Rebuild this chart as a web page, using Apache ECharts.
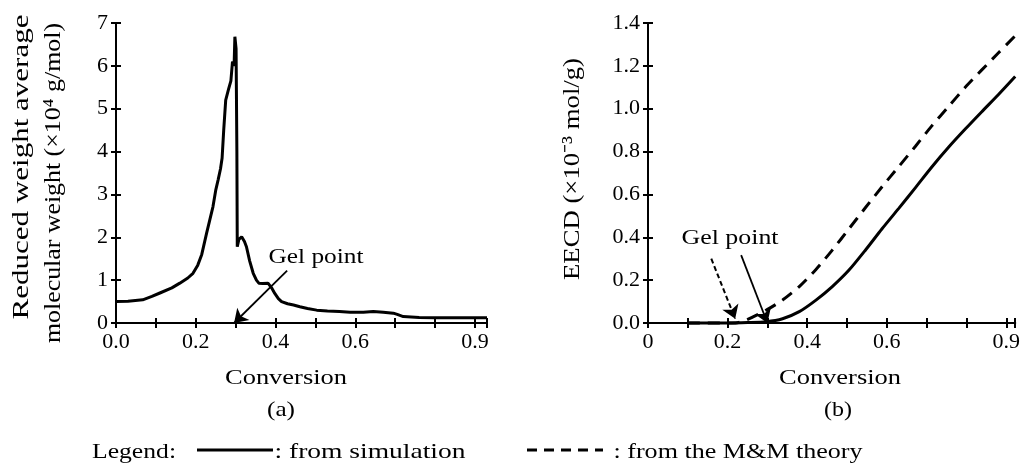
<!DOCTYPE html>
<html>
<head>
<meta charset="utf-8">
<script src="https://cdn.jsdelivr.net/npm/echarts@6/dist/echarts.min.js"></script>
<style>
html,body{margin:0;padding:0;background:#fff;}
#chart{width:1023px;height:468px;}
</style>
</head>
<body>
<div id="chart"></div>
<script>
// ---- Data (a): reduced weight average molecular weight vs conversion (simulation)
const convA = [0, 0.03, 0.067, 0.09, 0.11, 0.14, 0.16, 0.18, 0.193, 0.205, 0.215, 0.227, 0.235, 0.243, 0.25, 0.256, 0.262, 0.266, 0.27, 0.275, 0.282, 0.288, 0.292, 0.296, 0.298, 0.301, 0.303, 0.304, 0.308, 0.315, 0.322, 0.327, 0.335, 0.344, 0.352, 0.358, 0.368, 0.381, 0.39, 0.398, 0.407, 0.415, 0.43, 0.445, 0.461, 0.48, 0.503, 0.53, 0.56, 0.587, 0.62, 0.645, 0.67, 0.695, 0.705, 0.72, 0.76, 0.8, 0.85, 0.9, 0.93];
const mwA   = [0.50, 0.51, 0.54, 0.62, 0.70, 0.82, 0.93, 1.05, 1.16, 1.35, 1.6, 2.09, 2.4, 2.71, 3.1, 3.34, 3.6, 3.85, 4.5, 5.2, 5.45, 5.65, 6.1, 6.0, 6.68, 6.4, 4.0, 1.78, 1.95, 2.01, 1.9, 1.78, 1.45, 1.16, 1.0, 0.93, 0.92, 0.93, 0.82, 0.69, 0.57, 0.50, 0.45, 0.42, 0.38, 0.34, 0.30, 0.28, 0.27, 0.25, 0.25, 0.27, 0.25, 0.23, 0.2, 0.15, 0.13, 0.12, 0.12, 0.12, 0.12];

// ---- Data (b): EECD vs conversion
const convBSim = [0.1, 0.15, 0.2, 0.25, 0.297, 0.338, 0.38, 0.422, 0.463, 0.505, 0.547, 0.588, 0.63, 0.672, 0.713, 0.755, 0.797, 0.838, 0.88, 0.9225];
const eecdSim  = [0, 0, 0, 0.002, 0.006, 0.02, 0.053, 0.107, 0.17, 0.247, 0.342, 0.44, 0.535, 0.632, 0.728, 0.82, 0.905, 0.985, 1.065, 1.15];
const convBMM  = [0.1, 0.15, 0.2, 0.22, 0.247, 0.297, 0.338, 0.38, 0.422, 0.463, 0.505, 0.547, 0.588, 0.63, 0.672, 0.713, 0.755, 0.797, 0.838, 0.88, 0.9225];
const eecdMM   = [0, 0, 0, 0, 0.014, 0.06, 0.107, 0.17, 0.25, 0.34, 0.44, 0.54, 0.636, 0.73, 0.825, 0.92, 1.01, 1.1, 1.18, 1.26, 1.34];

// ---- Tick labels
const xTickValues = [0, 0.2, 0.4, 0.6, 0.9];
const xTickLabelsA = ['0.0', '0.2', '0.4', '0.6', '0.9'];
const xTickLabelsB = ['0', '0.2', '0.4', '0.6', '0.9'];
const yTickLabelsA = ['0', '1', '2', '3', '4', '5', '6', '7'];
const yTickLabelsB = ['0.0', '0.2', '0.4', '0.6', '0.8', '1.0', '1.2', '1.4'];

// ---- Annotation anchors (data coordinates)
const gelArrowA    = [[0.429, 1.22], [0.296, 0.0]];
const gelArrowBSim = [[0.234, 0.317], [0.300, 0.0]];
const gelArrowBMM  = [[0.159, 0.30], [0.219, 0.02]];

const FONT = 'Liberation Serif';
const pairs = (xs, ys) => xs.map((x, i) => [x, ys[i]]);

function xFmt(labels) {
  return function (v) {
    for (let i = 0; i < xTickValues.length; i++) {
      if (Math.abs(v - xTickValues[i]) < 1e-6) return labels[i];
    }
    return '';
  };
}
function yFmt(labels, step) {
  return function (v) {
    const r = Math.round(v / step);
    if (Math.abs(v / step - r) < 1e-6 && labels[r] !== undefined) return labels[r];
    return '';
  };
}

const measureCtx = document.createElement('canvas').getContext('2d');
function textW(text, size) {
  measureCtx.font = size + 'px ' + FONT;
  return measureCtx.measureText(text).width;
}
function fitText(text, size, cx, cy, target, rot) {
  const s = target / textW(text, size);
  return {
    type: 'text', x: cx, y: cy, rotation: rot || 0, scaleX: s, scaleY: 1,
    style: { text: text, fontSize: size, fontFamily: FONT, fill: '#000',
             textAlign: 'center', textVerticalAlign: 'middle' }
  };
}

const axisLine = { show: true, lineStyle: { color: '#000', width: 2 } };
const axisTick = { show: true, inside: true, length: 5, lineStyle: { color: '#000', width: 2 } };
const labelStyle = { color: '#000', fontFamily: FONT, fontSize: 22 };

function xAxes(grid, max, labels) {
  return [
    { type: 'value', gridIndex: grid, min: 0, max: max, interval: 0.1, position: 'bottom',
      axisLine, axisTick, splitLine: { show: false },
      axisLabel: Object.assign({ margin: 8, formatter: xFmt(labels), showMaxLabel: true }, labelStyle) },
    { type: 'value', gridIndex: grid, min: 0, max: max, interval: 0.1, position: 'top',
      axisLine, axisTick, splitLine: { show: false }, axisLabel: { show: false } }
  ];
}
function yAxes(grid, max, step, labels) {
  return [
    { type: 'value', gridIndex: grid, min: 0, max: max, interval: step, position: 'left',
      axisLine, axisTick, splitLine: { show: false },
      axisLabel: Object.assign({ margin: 8, formatter: yFmt(labels, step) }, labelStyle) },
    { type: 'value', gridIndex: grid, min: 0, max: max, interval: step, position: 'right',
      axisLine, axisTick, splitLine: { show: false }, axisLabel: { show: false } }
  ];
}

function arrowLine(pts, dashed) {
  return {
    silent: true,
    symbol: ['none', 'arrow'],
    symbolSize: 13,
    symbolOffset: 0,
    label: { show: false },
    itemStyle: { color: '#000' },
    lineStyle: { color: '#000', width: dashed ? 2 : 1.8, type: dashed ? [5, 3] : 'solid' },
    emphasis: { disabled: true },
    data: [[
      { coord: pts[0], symbol: 'none' },
      { coord: pts[1], symbol: 'arrow', symbolSize: 13 }
    ]]
  };
}

const chart = echarts.init(document.getElementById('chart'), null, { renderer: 'canvas' });

const option = {
  animation: false,
  backgroundColor: '#fff',
  color: ['#000'],
  grid: [
    { left: 116, top: 23, width: 371, height: 300 },
    { left: 648, top: 23, width: 369, height: 300 }
  ],
  xAxis: [].concat(xAxes(0, 0.93, xTickLabelsA), xAxes(1, 0.9225, xTickLabelsB)),
  yAxis: [].concat(yAxes(0, 7, 1, yTickLabelsA), yAxes(1, 1.4, 0.2, yTickLabelsB)),
  series: [
    { name: 'from simulation', type: 'line', xAxisIndex: 0, yAxisIndex: 0,
      data: pairs(convA, mwA), showSymbol: false, clip: false,
      itemStyle: { color: '#000' },
      lineStyle: { color: '#000', width: 3 }, markLine: arrowLine(gelArrowA, false) },
    { name: 'from simulation', type: 'line', xAxisIndex: 2, yAxisIndex: 2,
      data: pairs(convBSim, eecdSim), showSymbol: false, smooth: 0.25, clip: false,
      itemStyle: { color: '#000' },
      lineStyle: { color: '#000', width: 3 }, markLine: arrowLine(gelArrowBSim, false) },
    { name: 'from the M&M theory', type: 'line', xAxisIndex: 2, yAxisIndex: 2,
      data: pairs(convBMM, eecdMM), showSymbol: false, smooth: 0.25, clip: false,
      itemStyle: { color: '#000' },
      lineStyle: { color: '#000', width: 3, type: [12, 8] }, markLine: arrowLine(gelArrowBMM, true) }
  ],
  graphic: [
    fitText('Reduced weight average', 24, 22, 167, 305, Math.PI / 2),
    fitText('molecular weight (×10⁴ g/mol)', 24, 54, 183, 320, Math.PI / 2),
    fitText('EECD (×10⁻³ mol/g)', 24, 573, 169, 222, Math.PI / 2),
    fitText('Conversion', 22, 286, 378, 122),
    fitText('Conversion', 22, 840, 378, 122),
    fitText('(a)', 22, 281, 410, 28),
    fitText('(b)', 22, 838, 410, 28),
    fitText('Gel point', 22, 316, 257, 95),
    fitText('Gel point', 22, 730, 238, 97),
    fitText('Legend:', 22, 134, 452, 84),
    { type: 'line', shape: { x1: 197, y1: 450, x2: 273, y2: 450 }, style: { stroke: '#000', lineWidth: 3 } },
    fitText(': from simulation', 22, 370, 452, 191),
    { type: 'line', shape: { x1: 527, y1: 450, x2: 603, y2: 450 }, style: { stroke: '#000', lineWidth: 3, lineDash: [10, 7] } },
    fitText(': from the M&M theory', 22, 738, 452, 249)
  ]
};
chart.setOption(option);
</script>
</body>
</html>
